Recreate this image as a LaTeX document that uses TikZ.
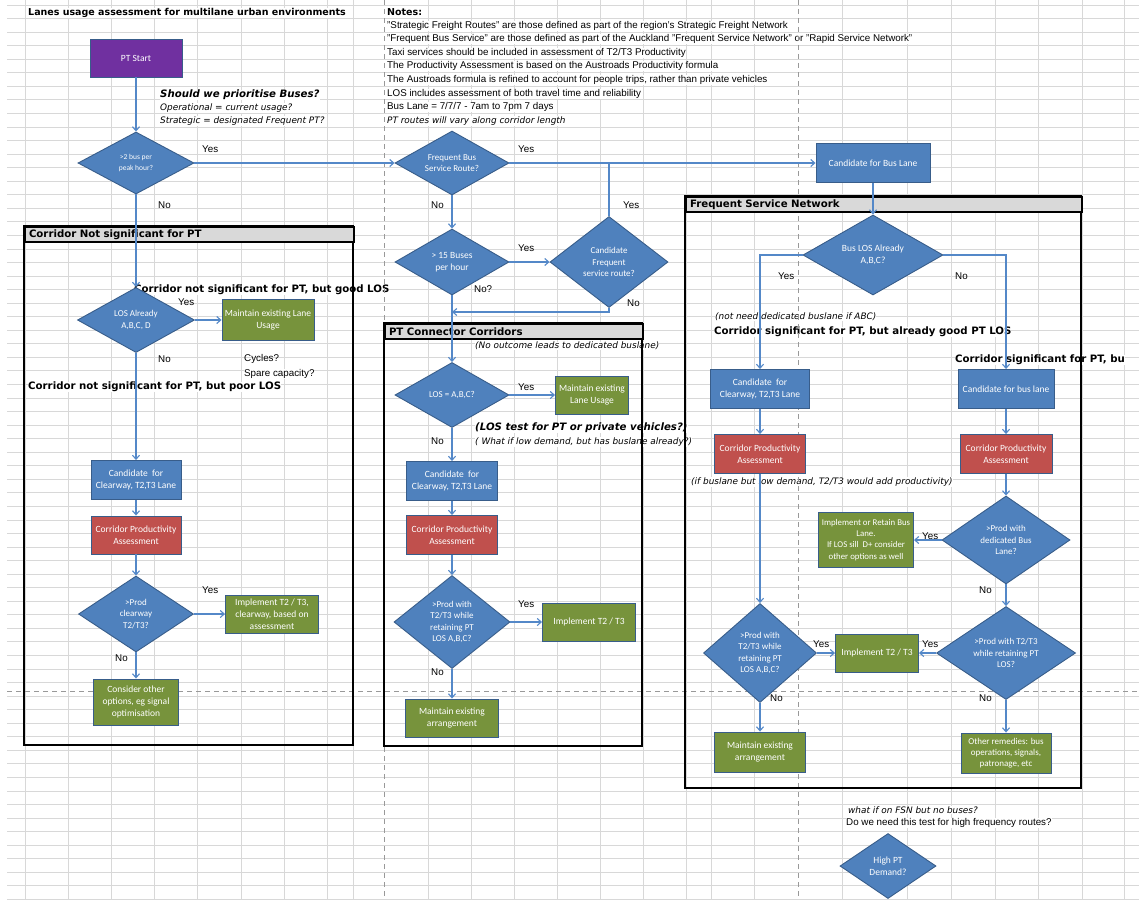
\documentclass[tikz,border=0pt]{standalone}
\usepackage{fontspec}
\setmainfont{Liberation Sans}
\newfontfamily\shapefont{Carlito}
\newfontfamily\headfont{DejaVu Sans}
\usetikzlibrary{shapes.geometric,arrows.meta}

\definecolor{gridc}{RGB}{216,216,216}
\definecolor{xlblue}{RGB}{79,129,189}
\definecolor{boxline}{RGB}{56,93,138}
\definecolor{linkc}{RGB}{84,136,200}
\definecolor{xlred}{RGB}{192,80,77}
\definecolor{xlgreen}{RGB}{119,147,60}
\definecolor{xlpurple}{RGB}{112,48,160}
\definecolor{headgray}{RGB}{217,217,217}

\tikzset{
  gridline/.style={draw=gridc, line width=0.8pt},
  pagebreak/.style={draw=black!40, line width=1pt, dash pattern=on 5pt off 4pt},
  block/.style={rectangle, draw=boxline, line width=0.9pt, text=white, align=center,
    inner sep=1pt, font=\shapefont\fontsize{9.5}{12}\selectfont},
  bluebox/.style={block, fill=xlblue},
  redbox/.style={block, fill=xlred},
  greenbox/.style={block, fill=xlgreen},
  startbox/.style={block, fill=xlpurple},
  decision/.style={diamond, draw=boxline, fill=xlblue, line width=0.9pt, text=white,
    align=center, inner sep=0pt, font=\shapefont\fontsize{9}{11.2}\selectfont},
  link/.style={draw=linkc, line width=1.1pt, -{Straight Barb[length=4pt,width=7pt]}},
  joinline/.style={draw=linkc, line width=1.1pt},
  lbl/.style={anchor=west, inner sep=0pt, font=\fontsize{9.8}{11}\selectfont},
  cell/.style={lbl, fill=white, inner ysep=0.5pt},
  itnote/.style={cell, font=\headfont\itshape\fontsize{8.9}{10}\selectfont},
  boldnote/.style={cell, font=\headfont\bfseries\fontsize{10.2}{11}\selectfont},
  bitnote/.style={cell, font=\headfont\bfseries\itshape\fontsize{10.2}{11}\selectfont},
  sectframe/.style={draw=black, line width=2.2pt},
  secthead/.style={rectangle, draw=black, line width=2pt, fill=headgray, anchor=north west,
    minimum height=15pt, inner xsep=4pt, inner ysep=0pt, align=left,
    font=\headfont\bfseries\fontsize{10.2}{11}\selectfont}
}

\begin{document}
\begin{tikzpicture}[x=1pt,y=-1pt]
\useasboundingbox (0,0) rectangle (1139,899);
\fill[white] (0,0) rectangle (1139,899);

% sheet grid
\foreach \gx in {25,68,111,154,197,241,284,327,353,428,471,514,557,600,643,686,711,754,842,907,951,995,1038,1082,1124}
  \draw[gridline] (\gx,0) -- (\gx,899);
\foreach \k in {0,...,66}
  \draw[gridline] (7,{5+13.55*\k}) -- (1139,{5+13.55*\k});

% cell texts
\node[boldnote, font=\headfont\bfseries\fontsize{9.5}{11}\selectfont] (title) at (28,13) {Lanes usage assessment for multilane urban environments};
\node[boldnote, font=\headfont\bfseries\fontsize{9.5}{11}\selectfont] (notes) at (387,12) {Notes:};
\foreach \i/\t in {
  1/{"Strategic Freight Routes" are those defined as part of the region's Strategic Freight Network},
  2/{"Frequent Bus Service" are those defined as part of the Auckland "Frequent Service Network" or "Rapid Service Network"},
  3/{Taxi services should be included in assessment of T2/T3 Productivity},
  4/{The Productivity Assessment is based on the Austroads Productivity formula},
  5/{The Austroads formula is refined to account for people trips, rather than private vehicles},
  6/{LOS includes assessment of both travel time and reliability},
  7/{Bus Lane = 7/7/7 - 7am to 7pm 7 days}} {
  \node[cell] (note\i) at (387,{12+13.6*\i}) {\t};
}
\node[itnote] (note8) at (387,121) {PT routes will vary along corridor length};

\node[bitnote] (prio) at (160,95) {Should we prioritise Buses?};
\node[itnote] (prioop) at (160,108) {Operational = current usage?};
\node[itnote] (priost) at (160,121) {Strategic = designated Frequent PT?};

\node[boldnote] (goodlos) at (134,290) {Corridor not significant for PT, but good LOS};
\node[lbl] (cycles) at (244,359) {Cycles?};
\node[cell] (spare) at (244,374) {Spare capacity?};
\node[boldnote] (poorlos) at (28,387) {Corridor not significant for PT, but poor LOS};

\node[itnote] (nooutcome) at (475,346) {(No outcome leads to dedicated buslane)};
\node[bitnote] (lostest) at (475,428) {(LOS test for PT or private vehicles?)};
\node[itnote] (lowdem) at (475,442) {( What if low demand, but has buslane already?)};

\node[itnote] (notneed) at (715,317) {(not need dedicated buslane if ABC)};
\node[boldnote] (goodpt) at (714,332) {Corridor significant for PT, but already good PT LOS};
\node[boldnote] (poorpt) at (955,360) {Corridor significant for PT, bu};
\node[itnote] (addprod) at (691,482) {(if buslane but low demand, T2/T3 would add productivity)};

\node[itnote] (nobuses) at (848,810) {what if on FSN but no buses?};
\node[cell] (highfreq) at (846,823) {Do we need this test for high frequency routes?};

% Yes / No labels
\foreach \nm/\px/\py/\t in {
  y1/202/149/Yes, n1/158/205/No, y2/518/149/Yes, n2/431/205/No,
  y3/623/205/Yes, y4/518/248/Yes, n4/474/289/No?, n3/627/303/No,
  y5/178/302/Yes, n5/158/359/No, y6/202/590/Yes, n6/115/658/No,
  y7/518/387/Yes, n7/431/441/No, y8/518/604/Yes, n8/431/672/No,
  y9/778/276/Yes, n9/955/276/No, y10/922/536/Yes, n10/979/590/No,
  y11/813/644/Yes, y12/922/644/Yes, n11/770/698/No, n12/979/698/No} {
  \node[lbl] (\nm) at (\px,\py) {\t};
}

% page breaks
\draw[pagebreak] (384,0) -- (384,899);
\draw[pagebreak] (798,0) -- (798,899);
\draw[pagebreak] (7,691) -- (1139,691);

% section frames
\draw[sectframe] (24,226) rectangle (353,745);
\node[secthead, text width=321pt] (hnsig) at (24,226) {Corridor Not significant for PT};
\draw[sectframe] (384,323) rectangle (642,746);
\node[secthead, text width=250pt] (hconn) at (384,323) {PT Connector Corridors};
\draw[sectframe] (685,196) rectangle (1081,788);
\node[secthead, text width=388pt] (hfsn) at (685,196) {Frequent Service Network};

% left column
\node[startbox, minimum width=92pt, minimum height=38pt] (start) at (136,58) {PT Start};
\node[decision, minimum width=116pt, minimum height=62pt, shape aspect=1.87, font=\shapefont\fontsize{7.5}{10.5}\selectfont] (d1) at (136,163) {>2 bus per\\peak hour?};
\node[decision, minimum width=117pt, minimum height=65pt, shape aspect=1.8] (dlosL) at (136,320) {LOS Already\\A,B,C, D};
\node[greenbox, minimum width=92pt, minimum height=41pt] (maintL) at (268,320) {Maintain existing Lane\\Usage};
\node[bluebox, minimum width=90pt, minimum height=39pt] (candL) at (136,480) {Candidate~ for\\Clearway, T2,T3 Lane};
\node[redbox, minimum width=90pt, minimum height=38pt] (prodL) at (136,535) {Corridor Productivity\\Assessment};
\node[decision, minimum width=115pt, minimum height=76pt, shape aspect=1.51] (dprodL) at (136,614) {>Prod\\clearway\\T2/T3?};
\node[greenbox, minimum width=93pt, minimum height=38pt] (implL) at (272,614) {Implement T2 / T3,\\clearway, based on\\assessment};
\node[greenbox, minimum width=85pt, minimum height=46pt] (considerL) at (136,702) {Consider other\\options, eg signal\\optimisation};

% middle column
\node[decision, minimum width=114pt, minimum height=64pt, shape aspect=1.78] (dfreq) at (452,163) {Frequent Bus\\Service Route?};
\node[decision, minimum width=114pt, minimum height=66pt, shape aspect=1.73, font=\shapefont\fontsize{9.5}{12}\selectfont] (d15) at (452,262) {> 15 Buses\\per hour};
\node[decision, minimum width=118pt, minimum height=91pt, shape aspect=1.3] (dcand) at (609,262) {Candidate\\Frequent\\service route?};
\coordinate (nojoin) at (452,312);
\node[decision, minimum width=114pt, minimum height=65pt, shape aspect=1.75] (dlosM) at (452,395) {LOS = A,B,C?};
\node[greenbox, minimum width=73pt, minimum height=38pt] (maintM) at (592,395) {Maintain existing\\Lane Usage};
\node[bluebox, minimum width=91pt, minimum height=39pt] (candM) at (452,481) {Candidate~ for\\Clearway, T2,T3 Lane};
\node[redbox, minimum width=91pt, minimum height=39pt] (prodM) at (452,535) {Corridor Productivity\\Assessment};
\node[decision, minimum width=116pt, minimum height=93pt, shape aspect=1.25] (dprodM) at (452,622) {>Prod with\\T2/T3 while\\retaining PT\\LOS A,B,C?};
\node[greenbox, minimum width=93pt, minimum height=38pt] (implM) at (589,622) {Implement T2 / T3};
\node[greenbox, minimum width=93pt, minimum height=38pt] (maintM2) at (452,718) {Maintain existing\\arrangement};

% frequent service network
\node[bluebox, minimum width=114pt, minimum height=39pt] (busl) at (873,163) {Candidate for Bus Lane};
\node[decision, minimum width=140pt, minimum height=80pt, shape aspect=1.75, font=\shapefont\fontsize{9.5}{12}\selectfont] (dbuslos) at (873,255) {Bus LOS Already\\A,B,C?};
\node[bluebox, minimum width=99pt, minimum height=39pt] (candFL) at (760,389) {Candidate~ for\\Clearway, T2,T3 Lane};
\node[bluebox, minimum width=96pt, minimum height=39pt] (candFR) at (1006,389) {Candidate for bus lane};
\node[redbox, minimum width=91pt, minimum height=39pt] (prodFL) at (760,454) {Corridor Productivity\\Assessment};
\node[redbox, minimum width=92pt, minimum height=39pt] (prodFR) at (1006,454) {Corridor Productivity\\Assessment};
\node[decision, minimum width=128pt, minimum height=88pt, shape aspect=1.45] (dded) at (1006,540) {>Prod with\\dedicated Bus\\Lane?};
\node[greenbox, minimum width=95pt, minimum height=55pt, font=\shapefont\fontsize{8.8}{11.2}\selectfont] (retain) at (866,540) {Implement or Retain Bus\\Lane.\\If LOS sill~ D+ consider\\other options as well};
\node[decision, minimum width=113pt, minimum height=99pt, shape aspect=1.14] (dprodFL) at (760,653) {>Prod with\\T2/T3 while\\retaining PT\\LOS A,B,C?};
\node[greenbox, minimum width=83pt, minimum height=38pt] (implF) at (877,653) {Implement T2 / T3};
\node[decision, minimum width=139pt, minimum height=93pt, shape aspect=1.5] (dprodFR) at (1006,653) {>Prod with T2/T3\\while retaining PT\\LOS?};
\node[greenbox, minimum width=91pt, minimum height=40pt] (maintF) at (760,752) {Maintain existing\\arrangement};
\node[greenbox, minimum width=90pt, minimum height=40pt, font=\shapefont\fontsize{9}{11.2}\selectfont] (other) at (1006,753) {Other remedies: bus\\operations, signals,\\patronage, etc};

\node[decision, minimum width=96pt, minimum height=65pt, shape aspect=1.48, font=\shapefont\fontsize{9.5}{12}\selectfont] (dhigh) at (888,866) {High PT\\Demand?};

% connectors
\draw[link] (start) -- (d1);
\draw[link] (d1.east) -- (dfreq.west);
\draw[link] (d1) -- (dlosL);
\draw[link] (dlosL.east) -- (maintL.west);
\draw[link] (dlosL) -- (candL);
\draw[link] (candL) -- (prodL);
\draw[link] (prodL) -- (dprodL);
\draw[link] (dprodL.east) -- (implL.west);
\draw[link] (dprodL) -- (considerL);

\draw[link] (dfreq.east) -- (busl.west);
\draw[link] (dfreq) -- (d15);
\draw[link] (d15.east) -- (dcand.west);
\draw[joinline] (dcand.north) -- (dcand.north |- dfreq.east);
\draw[link] (dcand.south) |- (nojoin);
\draw[link] (d15) -- (dlosM);
\draw[link] (dlosM.east) -- (maintM.west);
\draw[link] (dlosM) -- (candM);
\draw[link] (candM) -- (prodM);
\draw[link] (prodM) -- (dprodM);
\draw[link] (dprodM.east) -- (implM.west);
\draw[link] (dprodM) -- (maintM2);

\draw[link] (busl) -- (dbuslos);
\draw[link] (dbuslos.west) -| (candFL.north);
\draw[link] (dbuslos.east) -| (candFR.north);
\draw[link] (candFL) -- (prodFL);
\draw[link] (prodFL) -- (dprodFL);
\draw[link] (dprodFL.east) -- (implF.west);
\draw[link] (dprodFL) -- (maintF);
\draw[link] (candFR) -- (prodFR);
\draw[link] (prodFR) -- (dded);
\draw[link] (dded.west) -- (retain.east);
\draw[link] (dded) -- (dprodFR);
\draw[link] (dprodFR.west) -- (implF.east);
\draw[link] (dprodFR) -- (other);

\end{tikzpicture}
\end{document}
